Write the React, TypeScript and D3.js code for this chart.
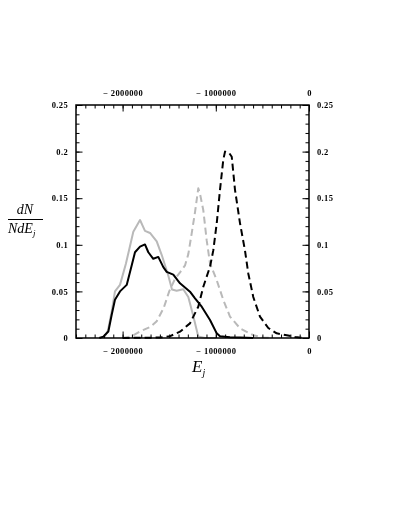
import { useRef, useEffect } from "react";
import * as d3 from "d3";

// data (energy, dN/NdE)
const graySolid: [number, number][] = [
  [-2200000, 0], [-2157000, 0.008], [-2114000, 0.03], [-2082000, 0.05], [-2028000, 0.057],
  [-1964000, 0.08], [-1885000, 0.114], [-1813000, 0.1266], [-1760000, 0.115], [-1706000, 0.1127],
  [-1634000, 0.1036], [-1580000, 0.089], [-1510000, 0.067], [-1470000, 0.052], [-1420000, 0.0508],
  [-1349000, 0.0523], [-1295000, 0.044], [-1245000, 0.025], [-1188000, 0.0015], [-1116000, 0],
  [-1000000, 0],
];
const blackSolid: [number, number][] = [
  [-2250000, 0], [-2207000, 0.0015], [-2153000, 0.007], [-2117000, 0.025], [-2082000, 0.041],
  [-2028000, 0.05], [-1956000, 0.057], [-1902000, 0.078], [-1867000, 0.092], [-1813000, 0.098],
  [-1760000, 0.1004], [-1724000, 0.092], [-1671000, 0.085], [-1617000, 0.087], [-1563000, 0.076],
  [-1527000, 0.071], [-1456000, 0.068], [-1384000, 0.0587], [-1277000, 0.0497], [-1223000, 0.0426],
  [-1151000, 0.0336], [-1062000, 0.0193], [-990000, 0.005], [-955000, 0.002], [-848000, 0.0007],
  [-740000, 0.0005], [-600000, 0],
];
const grayDashed: [number, number][] = [
  [-2000000, 0], [-1900000, 0.002], [-1813000, 0.007], [-1700000, 0.012], [-1634000, 0.018],
  [-1560000, 0.032], [-1500000, 0.05], [-1440000, 0.063], [-1380000, 0.071], [-1330000, 0.078],
  [-1295000, 0.09], [-1259000, 0.112], [-1223000, 0.135], [-1188000, 0.1606], [-1170000, 0.155],
  [-1134000, 0.137], [-1098000, 0.105], [-1062000, 0.08], [-990000, 0.062], [-920000, 0.041],
  [-848000, 0.023], [-740000, 0.0104], [-598000, 0.003], [-490000, 0.0005], [-400000, 0],
];
const blackDashed: [number, number][] = [
  [-2000000, 0], [-1600000, 0.0005], [-1490000, 0.002], [-1384000, 0.0068], [-1277000, 0.0157],
  [-1188000, 0.0336], [-1134000, 0.055], [-1062000, 0.0765], [-1027000, 0.094], [-990000, 0.123],
  [-955000, 0.159], [-920000, 0.191], [-901000, 0.2], [-860000, 0.199], [-829000, 0.1945],
  [-794000, 0.159], [-740000, 0.123], [-687000, 0.094], [-651000, 0.069], [-598000, 0.044],
  [-526000, 0.023], [-437000, 0.0107], [-347000, 0.005], [-239000, 0.003], [-150000, 0.001],
  [-50000, 0],
];

const xMajorTicks = [-2000000, -1000000, 0];
const xMinorTicks = d3.range(-2500000, 1, 100000);
const yMajorTicks = [0, 0.05, 0.1, 0.15, 0.2, 0.25];
const yMinorTicks = d3.range(0, 0.2501, 0.01);

const GRAY = "#b9b9b9";
const SERIF = "'Liberation Serif', 'Times New Roman', serif";

export default function App() {
  const width = 398, height = 515;
  const left = 76, right = 309, top = 105, bottom = 338;

  const x = d3.scaleLinear([-2500000, 0], [left, right]);
  const y = d3.scaleLinear([0, 0.25], [bottom, top]);
  const line = d3.line<[number, number]>((d) => x(d[0]), (d) => y(d[1]));

  const gBottom = useRef<SVGGElement>(null);
  const gTop = useRef<SVGGElement>(null);
  const gLeft = useRef<SVGGElement>(null);
  const gRight = useRef<SVGGElement>(null);

  useEffect(() => {
    const fmtX = (d: number) => (d === 0 ? "0" : `\u2212 ${Math.abs(d)}`);
    const fmtY = (d: number) => (d === 0 ? "0" : String(+d.toFixed(2)));
    const blank = () => "";

    const style = (g: d3.Selection<SVGGElement, unknown, null, undefined>) => {
      g.select(".domain").remove();
      g.attr("font-family", SERIF).attr("font-size", 8.5).attr("font-weight", "bold");
      g.selectAll("line").attr("stroke", "#000").attr("stroke-width", 1);
      g.selectAll("text").attr("fill", "#000").attr("letter-spacing", 0.35);
    };

    const draw = (
      el: SVGGElement | null,
      mk: () => d3.Axis<d3.NumberValue>,
      minor: number[],
      major: number[],
      fmt: (d: number) => string,
      pad: number
    ) => {
      const g = d3.select(el);
      g.selectAll("*").remove();
      g.append("g").call(mk().tickValues(minor).tickSize(-3.5).tickFormat(blank as any)).call(style);
      g.append("g").call(mk().tickValues(major).tickSize(-6.5).tickPadding(pad).tickFormat(fmt as any)).call(style);
    };

    draw(gBottom.current, () => d3.axisBottom(x), xMinorTicks, xMajorTicks, fmtX, 10);
    draw(gTop.current, () => d3.axisTop(x), xMinorTicks, xMajorTicks, fmtX, 9);
    draw(gLeft.current, () => d3.axisLeft(y), yMinorTicks, yMajorTicks, fmtY, 8);
    draw(gRight.current, () => d3.axisRight(y), yMinorTicks, yMajorTicks, fmtY, 8);
  }, []);

  return (
    <svg
      width={width}
      height={height}
      style={{ position: "absolute", left: 0, top: 0, willChange: "transform" }}
    >
      <g fill="none" strokeWidth={2} strokeLinejoin="round">
        <path d={line(graySolid) ?? ""} stroke={GRAY} />
        <path d={line(grayDashed) ?? ""} stroke={GRAY} strokeDasharray="7,4" />
        <path d={line(blackSolid) ?? ""} stroke="#000" />
        <path d={line(blackDashed) ?? ""} stroke="#000" strokeDasharray="7,4" />
      </g>
      <rect x={left} y={top} width={right - left} height={bottom - top} fill="none" stroke="#000" strokeWidth={1.5} />
      <g ref={gBottom} transform={`translate(0,${bottom})`} />
      <g ref={gTop} transform={`translate(0,${top})`} />
      <g ref={gLeft} transform={`translate(${left},0)`} />
      <g ref={gRight} transform={`translate(${right},0)`} />

      {/* axis titles */}
      <text x={192} y={372} fontFamily={SERIF} fontStyle="italic" fontSize={17}>
        E<tspan fontSize={10} dy={4}>j</tspan>
      </text>
      <g fontFamily={SERIF} fontStyle="italic" fontSize={14}>
        <text x={25} y={214} textAnchor="middle">dN</text>
        <line x1={8} x2={43} y1={219.5} y2={219.5} stroke="#000" strokeWidth={1} />
        <text x={8} y={233}>NdE<tspan fontSize={9} dy={3}>j</tspan></text>
      </g>
    </svg>
  );
}
